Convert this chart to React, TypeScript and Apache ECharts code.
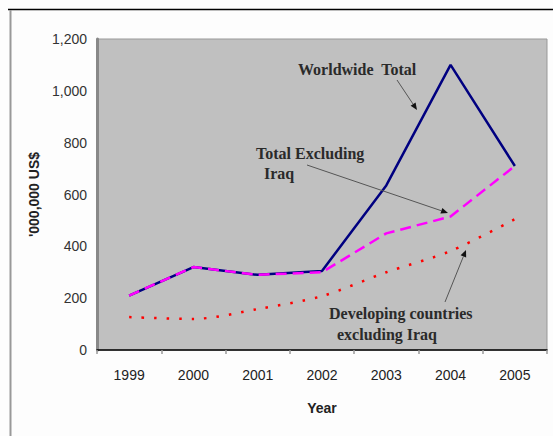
import React, { useEffect, useRef } from "react";
import * as echarts from "echarts";

const years = ["1999", "2000", "2001", "2002", "2003", "2004", "2005"];
const worldwideTotal = [210, 320, 290, 305, 635, 1100, 710];
const totalExclIraq = [210, 320, 290, 300, 450, 515, 710];
const developingExclIraq = [127, 120, 158, 208, 300, 382, 505];

const serif = "'Liberation Serif', 'Times New Roman', serif";
const sans = "'Liberation Sans', Arial, sans-serif";

function arrow(x1: number, y1: number, x2: number, y2: number) {
  const ang = Math.atan2(y2 - y1, x2 - x1);
  const L = 7;
  const W = 3;
  const bx = x2 - L * Math.cos(ang);
  const by = y2 - L * Math.sin(ang);
  const px = -Math.sin(ang) * W;
  const py = Math.cos(ang) * W;
  return [
    {
      type: "line",
      shape: { x1, y1, x2: bx, y2: by },
      style: { stroke: "#555", lineWidth: 1 },
      z: 100,
    },
    {
      type: "polygon",
      shape: { points: [[x2, y2], [bx + px, by + py], [bx - px, by - py]] },
      style: { fill: "#111" },
      z: 100,
    },
  ];
}

function label(text: string, x: number, y: number) {
  return {
    type: "text",
    x,
    y,
    z: 100,
    style: {
      text,
      font: `bold 16px ${serif}`,
      fill: "#2a2a2a",
      textVerticalAlign: "middle",
      verticalAlign: "middle",
    },
  };
}

export default function App() {
  const ref = useRef<HTMLDivElement>(null);
  useEffect(() => {
    if (!ref.current) return;
    const chart = echarts.init(ref.current, undefined, { renderer: "svg" });
    chart.setOption({
      animation: false,
      backgroundColor: "#fdfdfd",
      grid: {
        left: 97,
        right: 6,
        top: 39,
        bottom: 86,
        show: true,
        backgroundColor: "#c0c0c0",
        borderColor: "#999",
        borderWidth: 1,
      },
      xAxis: {
        type: "category",
        data: years,
        boundaryGap: true,
        axisLine: { lineStyle: { color: "#000", width: 1.5 } },
        axisTick: { show: true, length: 4, lineStyle: { color: "#999", width: 1.5 } },
        axisLabel: { color: "#222", fontSize: 14, fontFamily: sans, margin: 18 },
        name: "Year",
        nameLocation: "middle",
        nameGap: 51,
        nameTextStyle: { fontWeight: "bold", fontSize: 14, fontFamily: sans, color: "#222" },
      },
      yAxis: {
        type: "value",
        min: 0,
        max: 1200,
        interval: 200,
        splitLine: { show: false },
        axisLine: { show: true, lineStyle: { color: "#888", width: 3 } },
        axisTick: { show: false },
        axisLabel: {
          color: "#333",
          fontSize: 14,
          fontFamily: sans,
          margin: 10,
          formatter: (v: number) => v.toLocaleString("en-US"),
        },
        name: "'000,000 US$",
        nameLocation: "middle",
        nameGap: 56,
        nameRotate: 90,
        nameTextStyle: { fontWeight: "bold", fontSize: 14, fontFamily: sans, color: "#222" },
      },
      series: [
        {
          name: "Worldwide Total",
          type: "line",
          data: worldwideTotal,
          symbol: "none",
          lineStyle: { color: "#000080", width: 2.5 },
          z: 3,
        },
        {
          name: "Total Excluding Iraq",
          type: "line",
          data: totalExclIraq,
          symbol: "none",
          lineStyle: { color: "#ff00ff", width: 2.5, type: [11, 6] },
          z: 4,
        },
        {
          name: "Developing countries excluding Iraq",
          type: "line",
          data: developingExclIraq,
          symbol: "none",
          smooth: 0.3,
          lineStyle: { color: "#ff0000", width: 2.5, type: [2.5, 10] },
          z: 2,
        },
      ],
      graphic: [
        {
          type: "line",
          shape: { x1: 8, y1: 9.5, x2: 553, y2: 9.5 },
          style: { stroke: "#000", lineWidth: 1.5 },
        },
        {
          type: "line",
          shape: { x1: 10.5, y1: 10, x2: 10.5, y2: 436 },
          style: { stroke: "#999", lineWidth: 2 },
        },
        label("Worldwide  Total", 298, 69),
        label("Total Excluding", 256, 153),
        label("Iraq", 264, 173),
        label("Developing countries", 329, 313),
        label("excluding Iraq", 337, 334),
        ...arrow(397, 80, 417, 110),
        ...arrow(307, 165, 448, 213),
        ...arrow(445, 302, 466, 250),
      ],
    });
    return () => chart.dispose();
  }, []);
  return (
    <div
      ref={ref}
      style={{ position: "fixed", left: 0, top: 0, width: 553, height: 436 }}
    />
  );
}
